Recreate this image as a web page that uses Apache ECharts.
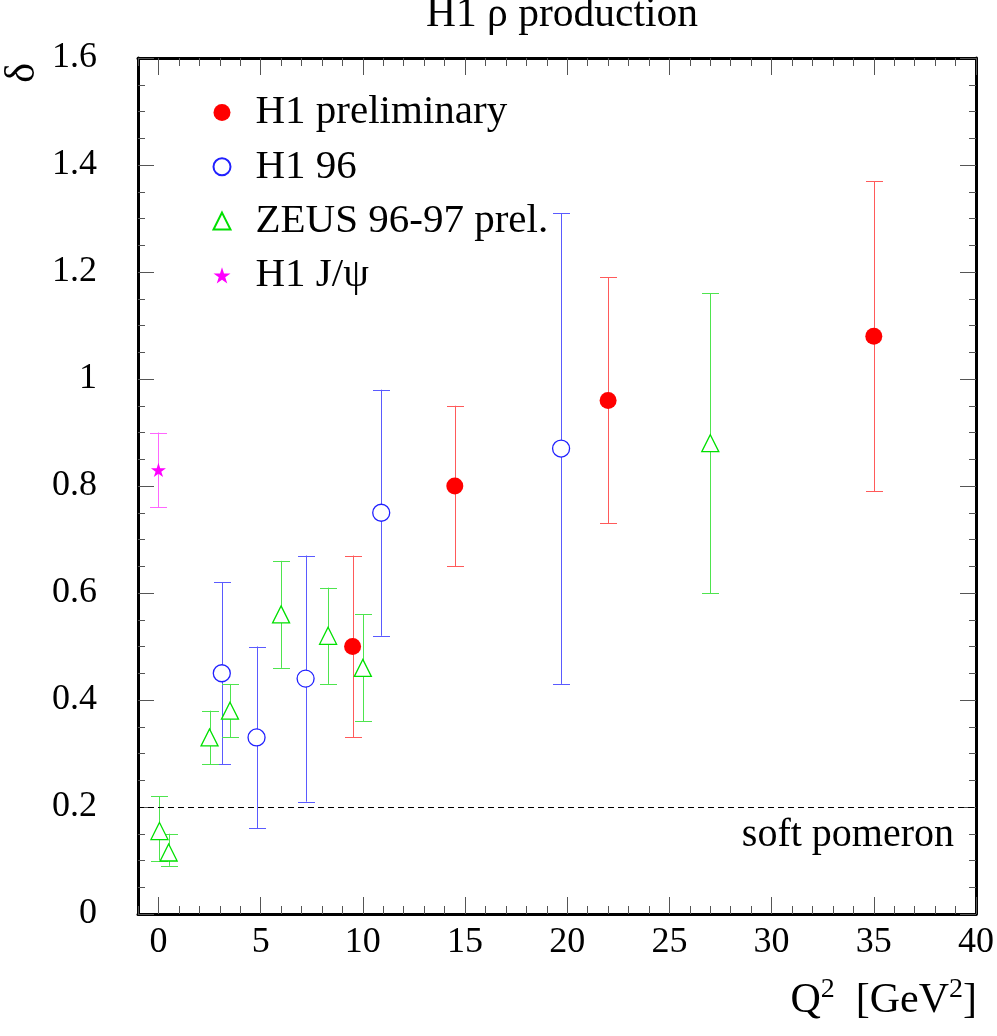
<!DOCTYPE html>
<html><head><meta charset="utf-8">
<script src="https://cdn.jsdelivr.net/npm/echarts@6/dist/echarts.min.js"></script>
<style>html,body{margin:0;padding:0;background:#fff}#c{width:997px;height:1036px}</style>
</head><body><div id="c"></div>
<script>
// ---- data ----
const xMajorTicks = [0, 5, 10, 15, 20, 25, 30, 35, 40];
const xMinorTicks = [-1, 0, 1, 2, 3, 4, 5, 6, 7, 8, 9, 10, 11, 12, 13, 14, 15, 16, 17, 18, 19, 20,
  21, 22, 23, 24, 25, 26, 27, 28, 29, 30, 31, 32, 33, 34, 35, 36, 37, 38, 39, 40];

const h1prelQ     = [9.5, 14.5, 22.0, 35.0];
const h1prelDelta = [0.50, 0.80, 0.96, 1.08];
const h1prelLow   = [0.33, 0.65, 0.73, 0.79];
const h1prelHigh  = [0.67, 0.95, 1.19, 1.37];

const h196Q     = [3.1, 4.8, 7.2, 10.9, 19.7];
const h196Delta = [0.45, 0.33, 0.44, 0.75, 0.87];
const h196Low   = [0.28, 0.16, 0.21, 0.52, 0.43];
const h196High  = [0.62, 0.50, 0.67, 0.98, 1.31];

const zeusQ     = [0.05, 0.5, 2.5, 3.5, 6.0, 8.3, 10.0, 27.0];
const zeusDelta = [0.155, 0.115, 0.33, 0.38, 0.56, 0.52, 0.46, 0.88];
const zeusLow   = [0.10, 0.09, 0.28, 0.33, 0.46, 0.43, 0.36, 0.60];
const zeusHigh  = [0.22, 0.15, 0.38, 0.43, 0.66, 0.61, 0.56, 1.16];

const jpsiQ     = [0.0];
const jpsiDelta = [0.83];
const jpsiLow   = [0.76];
const jpsiHigh  = [0.90];

const softPomeron = 0.2;
const seriesNames = ['H1 preliminary', 'H1 96', 'ZEUS 96-97 prel.', 'H1 J/\u03c8'];

// ---- helpers ----
const FONT = 'Liberation Serif';
const zip2 = (a, b) => a.map((v, i) => [v, b[i]]);
const zip3 = (a, b, c) => a.map((v, i) => [v, b[i], c[i]]);

function errSeries(name, q, lo, hi, color) {
  return {
    type: 'custom', name: name, z: 1, silent: true,
    data: zip3(q, lo, hi),
    renderItem: function (params, api) {
      const x = api.value(0);
      const pLo = api.coord([x, api.value(1)]);
      const pHi = api.coord([x, api.value(2)]);
      const cx = Math.round(pLo[0]) + 0.5;
      const w = 8.5;
      const style = { stroke: color, lineWidth: 1, fill: null };
      return {
        type: 'group', children: [
          { type: 'line', shape: { x1: cx, y1: pLo[1], x2: cx, y2: pHi[1] }, style: style },
          { type: 'line', shape: { x1: cx - w, y1: Math.round(pLo[1]) + 0.5, x2: cx + w, y2: Math.round(pLo[1]) + 0.5 }, style: style },
          { type: 'line', shape: { x1: cx - w, y1: Math.round(pHi[1]) + 0.5, x2: cx + w, y2: Math.round(pHi[1]) + 0.5 }, style: style }
        ]
      };
    }
  };
}

const starPath = 'path://M50,0 L61.2,34.5 L97.6,34.5 L68.2,55.9 L79.4,90.5 L50,69.1 L20.6,90.5 L31.8,55.9 L2.4,34.5 L38.8,34.5 Z';

const tickStyle = { color: '#555', width: 1 };
const frameLine = { show: true, onZero: false, lineStyle: { color: '#000', width: 3 } };

function xAx(pos, ticks, len, labels, line) {
  return {
    type: 'value', position: pos, min: -1, max: 40,
    axisLine: line ? frameLine : { show: false, onZero: false },
    axisTick: { show: true, inside: true, length: len, customValues: ticks, lineStyle: tickStyle },
    axisLabel: labels ? { show: true, customValues: ticks, fontFamily: FONT, fontSize: 36, color: '#000', margin: 11 } : { show: false },
    splitLine: { show: false }, minorTick: { show: false }
  };
}
function yAx(pos, labels) {
  return {
    type: 'value', position: pos, min: 0, max: 1.6, interval: 0.2,
    axisLine: frameLine,
    axisTick: { show: true, inside: true, length: 16, lineStyle: tickStyle },
    minorTick: { show: true, splitNumber: 4, length: 7, lineStyle: tickStyle },
    axisLabel: labels ? { show: true, fontFamily: FONT, fontSize: 36, color: '#000', margin: 41 } : { show: false },
    splitLine: { show: false }
  };
}

const chart = echarts.init(document.getElementById('c'), null, { renderer: 'canvas' });
chart.setOption({
  backgroundColor: '#fff',
  animation: false,
  title: {
    text: 'H1 \u03c1 production', left: 426, top: -6, padding: 0,
    textStyle: { fontFamily: FONT, fontSize: 41.5, fontWeight: 'normal', color: '#000' }
  },
  grid: { left: 138, right: 19, top: 58, bottom: 122, containLabel: false },
  legend: {
    data: seriesNames, orient: 'vertical', left: 212.5, top: 92,
    itemWidth: 17, itemHeight: 17, itemGap: 13.3, padding: 0,
    textStyle: { fontFamily: FONT, fontSize: 41, lineHeight: 40, color: '#000', padding: [0, 0, 0, 20] }
  },
  xAxis: [
    xAx('bottom', xMajorTicks, 17, true, true),
    xAx('bottom', xMinorTicks, 8, false, false),
    xAx('top', xMajorTicks, 17, false, true),
    xAx('top', xMinorTicks, 8, false, false)
  ],
  yAxis: [yAx('left', true), yAx('right', false)],
  graphic: [
    {
      type: 'text', left: 2, top: 63, rotation: Math.PI / 2,
      style: { text: '\u03b4', fontFamily: FONT, fontSize: 42, fill: '#000' }
    },
    {
      type: 'text', right: 20, top: 976,
      style: {
        text: '{m|Q}{s|2}{m|  [GeV}{s|2}{m|]}',
        rich: {
          m: { fontFamily: FONT, fontSize: 42, fill: '#000', verticalAlign: 'bottom' },
          s: { fontFamily: FONT, fontSize: 28, fill: '#000', verticalAlign: 'bottom', padding: [0, 0, 18, 0] }
        }
      }
    }
  ],
  series: [
    errSeries('err1', h1prelQ, h1prelLow, h1prelHigh, '#ff5a5a'),
    errSeries('err2', h196Q, h196Low, h196High, '#5a5aff'),
    errSeries('err3', zeusQ, zeusLow, zeusHigh, '#4ee44e'),
    errSeries('err4', jpsiQ, jpsiLow, jpsiHigh, '#ff66ff'),
    {
      type: 'scatter', name: seriesNames[0], z: 3, data: zip2(h1prelQ, h1prelDelta),
      symbol: 'circle', symbolSize: 17, symbolKeepAspect: true,
      itemStyle: { color: '#ff0000', opacity: 1 },
      markLine: {
        silent: true, symbol: ['none', 'none'],
        lineStyle: { color: '#000', type: [6, 4], width: 1.2 },
        label: {
          show: true, position: 'insideEndBottom', formatter: 'soft pomeron',
          fontFamily: FONT, fontSize: 40, color: '#000', distance: [22, 8]
        },
        data: [{ yAxis: softPomeron }]
      }
    },
    {
      type: 'scatter', name: seriesNames[1], z: 3, data: zip2(h196Q, h196Delta),
      symbol: 'circle', symbolSize: 17, symbolKeepAspect: true,
      itemStyle: { color: '#ffffff', borderColor: '#2020ff', borderWidth: 1.3, opacity: 1 }
    },
    {
      type: 'scatter', name: seriesNames[2], z: 3, data: zip2(zeusQ, zeusDelta),
      symbol: 'triangle', symbolSize: 17, symbolKeepAspect: true,
      itemStyle: { color: '#ffffff', borderColor: '#00e000', borderWidth: 1.3, opacity: 1 }
    },
    {
      type: 'scatter', name: seriesNames[3], z: 3, data: zip2(jpsiQ, jpsiDelta),
      symbol: starPath, symbolSize: 15, symbolKeepAspect: true,
      itemStyle: { color: '#ff00ff', opacity: 1 }
    }
  ]
});
</script>
</body></html>
